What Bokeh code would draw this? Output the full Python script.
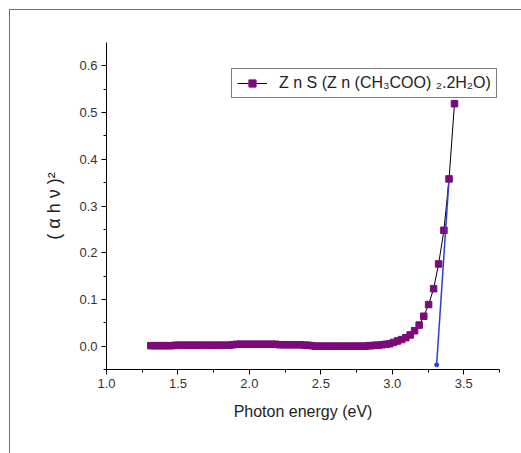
from bokeh.plotting import figure
from bokeh.models import Range1d, SingleIntervalTicker, NumeralTickFormatter, Legend, LegendItem
from bokeh.embed import file_html
from bokeh.resources import INLINE

# ---- data ----
energy = [1.31, 1.335, 1.36, 1.385, 1.41, 1.435, 1.46, 1.485, 1.51, 1.535, 1.56, 1.585,
          1.61, 1.635, 1.66, 1.685, 1.71, 1.735, 1.76, 1.785, 1.81, 1.835, 1.86, 1.885,
          1.91, 1.935, 1.96, 1.985, 2.01, 2.035, 2.06, 2.085, 2.11, 2.135, 2.16, 2.185,
          2.21, 2.235, 2.26, 2.285, 2.31, 2.335, 2.36, 2.385, 2.41, 2.435, 2.46, 2.485,
          2.51, 2.535, 2.56, 2.585, 2.61, 2.635, 2.66, 2.685, 2.71, 2.735, 2.76, 2.785,
          2.81, 2.835, 2.855, 2.878, 2.903, 2.928, 2.954, 2.981, 3.008, 3.036, 3.065,
          3.094, 3.125, 3.156, 3.188, 3.220, 3.254, 3.289, 3.324, 3.361, 3.397, 3.435]
absorb = [0.001, 0.001, 0.001, 0.001, 0.001, 0.001, 0.001, 0.002, 0.002, 0.002, 0.002, 0.002,
          0.002, 0.002, 0.002, 0.002, 0.002, 0.002, 0.002, 0.002, 0.002, 0.002, 0.002, 0.003,
          0.004, 0.004, 0.004, 0.004, 0.004, 0.004, 0.004, 0.004, 0.004, 0.004, 0.004, 0.004,
          0.003, 0.003, 0.003, 0.003, 0.003, 0.003, 0.003, 0.002, 0.002, 0.001, 0.000, 0.000,
          0.000, 0.000, 0.000, 0.000, 0.000, 0.000, 0.000, 0.000, 0.000, 0.000, 0.000, 0.000,
          0.000, 0.001, 0.001, 0.002, 0.002, 0.003, 0.004, 0.005, 0.008, 0.011, 0.014,
          0.018, 0.024, 0.033, 0.045, 0.064, 0.089, 0.123, 0.176, 0.248, 0.358, 0.519]
tangent_x = [3.31, 3.395]
tangent_y = [-0.04, 0.35]
series_label = "Z n S (Z n (CH\u2083COO) \u2082.2H\u2082O)"

FONT = "Liberation Sans"

p = figure(width=512, height=444, output_backend="svg", toolbar_location=None,
           x_range=Range1d(1.0, 3.75), y_range=Range1d(-0.05, 0.65),
           min_border_left=96, min_border_right=23, min_border_top=32, min_border_bottom=85)
p.margin = (9, 0, 0, 9)
p.styles = {"border-left": "1px solid #e0404c", "border-top": "1px solid #e0404c"}
p.outline_line_color = None
p.xgrid.visible = False
p.ygrid.visible = False
p.background_fill_color = "white"
p.border_fill_color = "white"

line_r = p.line(energy, absorb, line_color="black", line_width=1)
mark_r = p.scatter(energy, absorb, marker="square", size=6.5, fill_color="#7b0a7b",
                   line_color="#7b0a7b")
p.line(tangent_x, tangent_y, line_color="#2a3fd0", line_width=1.5)
p.scatter(tangent_x[:1], tangent_y[:1], marker="circle", size=4, fill_color="#2a3fd0",
          line_color="#2a3fd0")

for ax in (p.xaxis[0], p.yaxis[0]):
    ax.major_tick_out = 5
    ax.major_tick_in = 0
    ax.minor_tick_out = 3
    ax.minor_tick_in = 0
    ax.axis_line_color = "black"
    ax.major_tick_line_color = "black"
    ax.minor_tick_line_color = "black"
    ax.major_label_text_font = FONT
    ax.major_label_text_font_size = "13px"
    ax.major_label_text_color = "#333333"
    ax.axis_label_text_font = FONT
    ax.axis_label_text_font_style = "normal"
    ax.axis_label_text_font_size = "16px"
    ax.axis_label_text_color = "#222222"

p.yaxis.axis_label_text_font_size = "18px"
p.xaxis.ticker = SingleIntervalTicker(interval=0.5, num_minor_ticks=2)
p.yaxis.ticker = SingleIntervalTicker(interval=0.1, num_minor_ticks=2)
p.xaxis.formatter = NumeralTickFormatter(format="0.0")
p.yaxis.formatter = NumeralTickFormatter(format="0.0")
p.xaxis.axis_label = "Photon energy (eV)"
p.yaxis.axis_label = "( \u03b1 h \u03bd )\u00b2"
p.xaxis.major_label_standoff = 4
p.xaxis.axis_label_standoff = 12
p.yaxis.major_label_standoff = 4
p.yaxis.axis_label_standoff = 12

legend = Legend(items=[LegendItem(label=series_label, renderers=[line_r, mark_r])],
                location=(125, 271), border_line_color="black", border_line_width=1.2,
                padding=5, margin=0, glyph_width=30, glyph_height=18, label_height=18,
                label_standoff=12, label_text_font=FONT, label_text_font_size="16px",
                label_text_color="#222222", background_fill_alpha=1.0)
p.add_layout(legend)

open("out.html", "w").write(file_html(p, INLINE))
